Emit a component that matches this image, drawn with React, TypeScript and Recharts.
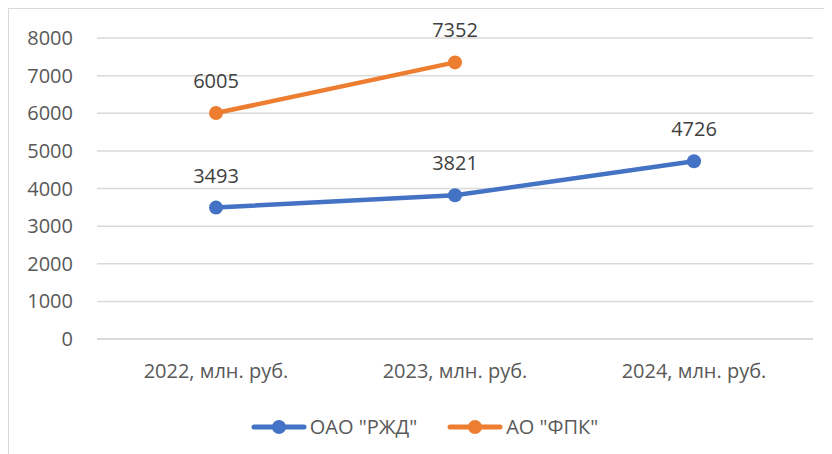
import { CartesianGrid, LabelList, Legend, Line, LineChart, XAxis, YAxis } from "recharts";

const categories = ["2022, млн. руб.", "2023, млн. руб.", "2024, млн. руб."];
const rzdValues = [3493, 3821, 4726];
const fpkValues: (number | null)[] = [6005, 7352, null];
const yTicks = [0, 1000, 2000, 3000, 4000, 5000, 6000, 7000, 8000];

const RZD = 'ОАО "РЖД"';
const FPK = 'АО "ФПК"';
const BLUE = "#4472C4";
const ORANGE = "#ED7D31";
const TEXT = "#595959";
const FONT = "'Open Sans', sans-serif";

const data = categories.map((name, i) => ({
  name,
  [RZD]: rzdValues[i],
  [FPK]: fpkValues[i],
}));

function LegendContent() {
  const items = [
    { label: RZD, color: BLUE },
    { label: FPK, color: ORANGE },
  ];
  return (
    <div style={{ display: "flex", justifyContent: "center", gap: 30, marginLeft: 8 }}>
      {items.map((it) => (
        <div key={it.label} style={{ display: "flex", alignItems: "center" }}>
          <svg width={56} height={16}>
            <line x1={3} y1={8} x2={53} y2={8} stroke={it.color} strokeWidth={5} strokeLinecap="round" />
            <circle cx={28} cy={8} r={7} fill={it.color} />
          </svg>
          <span style={{ marginLeft: 3, fontFamily: FONT, fontSize: 20, color: TEXT }}>{it.label}</span>
        </div>
      ))}
    </div>
  );
}

export default function App() {
  return (
    <div
      style={{
        width: 824,
        height: 446,
        borderLeft: "1px solid #d9d9d9",
        borderTop: "1px solid #d9d9d9",
        boxSizing: "border-box",
        overflow: "hidden",
        background: "#fff",
      }}
    >
      <LineChart
        width={823}
        height={445}
        data={data}
        margin={{ top: 29, right: 19, bottom: 10, left: 0 }}
        style={{ fontFamily: FONT }}
      >
        <CartesianGrid vertical={false} stroke="#d9d9d9" strokeWidth={1.5} />
        <XAxis
          dataKey="name"
          axisLine={{ stroke: "#d9d9d9", strokeWidth: 1.5 }}
          tickLine={false}
          tickSize={6}
          tickMargin={19}
          height={78}
          padding={{ left: 119, right: 119 }}
          tick={{ fill: TEXT, fontSize: 20 }}
        />
        <YAxis
          domain={[0, 8000]}
          ticks={yTicks}
          axisLine={false}
          tickLine={false}
          width={88}
          tickSize={6}
          tickMargin={18}
          tick={{ fill: TEXT, fontSize: 20 }}
        />
        <Legend verticalAlign="bottom" wrapperStyle={{ top: 404, left: 0, width: 823 }} content={<LegendContent />} />
        <Line
          dataKey={RZD}
          stroke={BLUE}
          strokeWidth={4.5}
          dot={{ r: 7, fill: BLUE, stroke: BLUE, strokeWidth: 0 }}
          activeDot={false}
          isAnimationActive={false}
        >
          <LabelList dataKey={RZD} position="top" offset={25} fill="#404040" fontSize={20} />
        </Line>
        <Line
          dataKey={FPK}
          stroke={ORANGE}
          strokeWidth={4.5}
          dot={{ r: 7, fill: ORANGE, stroke: ORANGE, strokeWidth: 0 }}
          activeDot={false}
          isAnimationActive={false}
        >
          <LabelList dataKey={FPK} position="top" offset={25} fill="#404040" fontSize={20} />
        </Line>
      </LineChart>
    </div>
  );
}
